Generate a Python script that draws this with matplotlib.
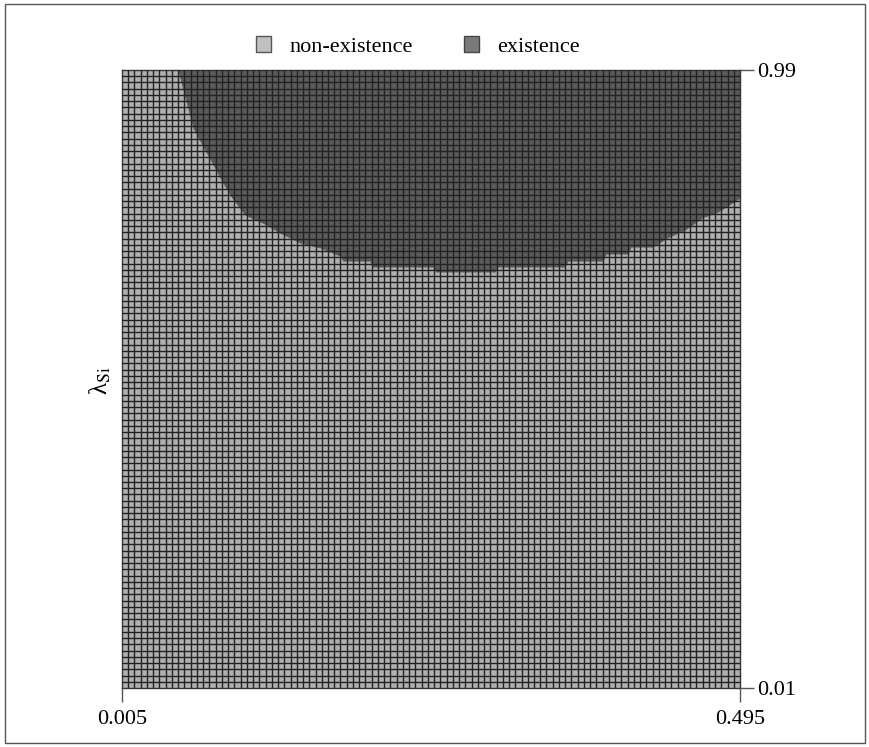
import numpy as np
import matplotlib.pyplot as plt
from matplotlib.patches import Patch, Rectangle

plt.rcParams['font.family'] = ['Liberation Serif', 'DejaVu Serif']
plt.rcParams['mathtext.fontset'] = 'stix'

# boundary of the existence region (existence above the curve)
bx = [0.005, 0.0494, 0.0518, 0.0613, 0.0708, 0.0827, 0.0922, 0.1025, 0.1168,
      0.1303, 0.1461, 0.1620, 0.1778, 0.1802, 0.2016, 0.2032, 0.2516, 0.2540,
      0.3007, 0.3031, 0.3562, 0.3586, 0.3864, 0.3888, 0.4062, 0.4086, 0.4260,
      0.4371, 0.4514, 0.4649, 0.4776, 0.495]
by = [0.99, 0.99, 0.971, 0.898, 0.863, 0.819, 0.787, 0.760, 0.747,
      0.7315, 0.7157, 0.708, 0.695, 0.687, 0.687, 0.6776, 0.6776, 0.6697,
      0.6697, 0.6776, 0.6776, 0.687, 0.687, 0.6982, 0.6982, 0.7093, 0.7093,
      0.7236, 0.7363, 0.7553, 0.7648, 0.787]

x_min, x_max = 0.005, 0.495
y_min, y_max = 0.01, 0.99
n_cells = 99

light = '#b0b0b0'
dark = '#5a5a5a'

fig = plt.figure(figsize=(8.7, 7.47), dpi=100)
fig.patches.append(Rectangle((0.006, 0.006), 0.988, 0.988, transform=fig.transFigure,
                             fill=False, edgecolor='#555555', linewidth=1.0))
ax = fig.add_axes([0.1402, 0.0790, 0.7104, 0.8273])

ax.fill_between([x_min, x_max], y_min, y_max, color=light, zorder=1)
ax.fill_between(bx, by, y_max, color=dark, zorder=2, linewidth=0)

ax.set_xlim(x_min, x_max)
ax.set_ylim(y_min, y_max)

ax.set_xticks(np.linspace(x_min, x_max, n_cells + 1), minor=True)
ax.set_yticks(np.linspace(y_min, y_max, n_cells + 1), minor=True)
ax.grid(which='minor', color='#222222', linewidth=1.0, zorder=3)
ax.set_axisbelow(False)
ax.tick_params(which='minor', length=0)

ax.set_xticks([x_min, x_max])
ax.set_xticklabels(['0.005', '0.495'])
ax.set_yticks([y_min, y_max])
ax.set_yticklabels(['0.01', '0.99'])
ax.yaxis.tick_right()
ax.tick_params(which='major', length=10, width=1, color='#555555',
               labelsize=16)
ax.tick_params(axis='y', pad=2)
ax.tick_params(axis='x', pad=6)

for s in ax.spines.values():
    s.set_color('#333333')
    s.set_linewidth(1)

fig.text(0.115, 0.49, r'λ$_{\mathrm{Si}}$', rotation=90, fontsize=18,
         ha='center', va='center')

handles = [Patch(facecolor='#c0c0c0', edgecolor='#555555', label='non-existence'),
           Patch(facecolor='#7a7a7a', edgecolor='#444444', label='existence')]
fig.legend(handles=handles, loc='center', bbox_to_anchor=(0.48, 0.938), ncol=2,
           frameon=False, fontsize=16, handlelength=0.7, handleheight=0.7,
           columnspacing=2.3, handletextpad=0.8)

fig.savefig('out.png', dpi=100)
